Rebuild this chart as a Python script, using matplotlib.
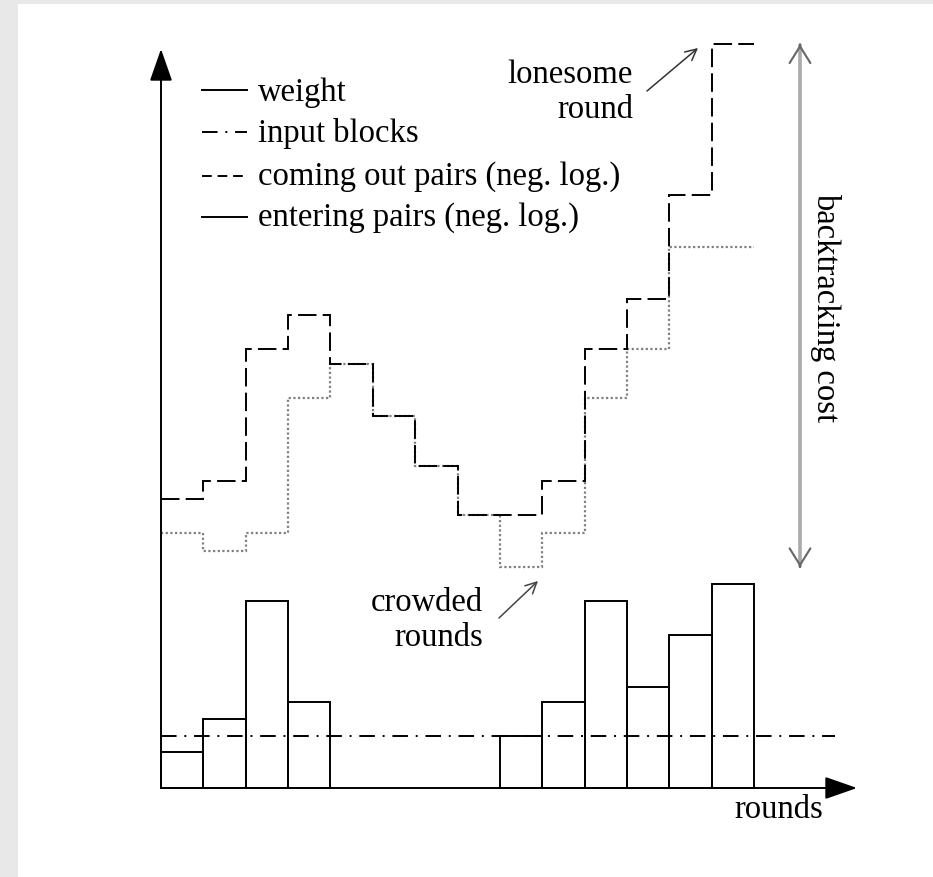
import numpy as np
import matplotlib.pyplot as plt

plt.rcParams['font.family'] = ['Liberation Serif', 'DejaVu Serif']

# data: one value per round (14 rounds)
rounds = np.arange(14)
weight = [1.4, 2.65, 7.2, 3.3, 0, 0, 0, 0, 2.0, 3.3, 7.2, 3.9, 5.9, 7.85]
input_blocks = 2.0
coming_out = [11.1, 11.8, 16.9, 18.2, 16.3, 14.3, 12.4, 10.5,
              10.5, 11.8, 16.9, 18.8, 22.8, 28.6]
entering = [9.8, 9.1, 9.8, 15.0, 16.3, 14.3, 12.4, 10.5,
            8.5, 9.8, 15.0, 16.9, 20.8, 20.8]

W, H = 933, 878
fig = plt.figure(figsize=(W / 100, H / 100), dpi=100, facecolor='#e8e8e8')
ax = fig.add_axes([0, 0, 1, 1])
ax.set_facecolor('none')

# pixel -> data helpers (x0 = 161px, 42.36 px per round; y0 = 789px, 26 px per unit)
def X(px):
    return (px - 161) / 42.36

def Y(py):
    return (789 - py) / 26.0

ax.set_xlim(X(0), X(W))
ax.set_ylim(Y(H), Y(0))
ax.axis('off')

# white page
ax.add_patch(plt.Rectangle((X(18), Y(H)), X(W) - X(18), Y(5) - Y(H),
                           facecolor='white', edgecolor='none', zorder=0))

lw = 1.4
fs = 23.5

# weight bars
edges = np.arange(15)
for r, w in zip(rounds, weight):
    if w > 0:
        ax.bar(r + 0.5, w, width=1, fill=False, edgecolor='black', lw=lw, zorder=2)

# input blocks
ax.plot([0, X(835)], [input_blocks, input_blocks], color='black', lw=lw,
        dashes=(8, 4, 1, 4), zorder=3)

# entering pairs (grey dotted) and coming out pairs (dashed)
ax.stairs(entering, edges, baseline=None, color='#808080', lw=1.6,
          linestyle=(0, (1, 1.1)), zorder=3)
ax.stairs(coming_out, edges, baseline=None, color='black', lw=lw,
          linestyle=(0, (9.5, 3.2)), zorder=4)

# axes with arrow heads
ax.annotate('', xy=(0, Y(50)), xytext=(0, 0),
            arrowprops=dict(arrowstyle='-|>,head_length=2.0,head_width=0.7',
                            mutation_scale=10, lw=lw, color='black',
                            shrinkA=0, shrinkB=0), zorder=5)
ax.annotate('', xy=(X(857), 0), xytext=(0, 0),
            arrowprops=dict(arrowstyle='-|>,head_length=2.0,head_width=0.7',
                            mutation_scale=10, lw=lw, color='black',
                            shrinkA=0, shrinkB=0), zorder=5)

# legend (drawn by hand)
labels = ['weight', 'input blocks', 'coming out pairs (neg. log.)',
          'entering pairs (neg. log.)']
styles = ['-', (0, (8, 4, 1, 4)), (0, (5, 3)), '-']
line_py = [91, 133, 176.5, 218]
base_py = [101.5, 142, 185, 226]
for lab, st, ly, by in zip(labels, styles, line_py, base_py):
    ax.plot([X(202), X(247)], [Y(ly), Y(ly)], color='black', lw=lw, linestyle=st)
    ax.text(X(258), Y(by), lab, fontsize=fs, ha='left', va='baseline')

# annotations
ax.text(X(633), Y(83), 'lonesome', fontsize=fs, ha='right', va='baseline')
ax.text(X(633), Y(118), 'round', fontsize=fs, ha='right', va='baseline')
ax.annotate('', xy=(X(698), Y(49)), xytext=(X(647), Y(92)),
            arrowprops=dict(arrowstyle='->,head_length=0.8,head_width=0.4',
                            mutation_scale=10, lw=1.1, color='#333333',
                            shrinkA=0, shrinkB=0))

ax.text(X(483), Y(611), 'crowded', fontsize=fs, ha='right', va='baseline')
ax.text(X(483), Y(646), 'rounds', fontsize=fs, ha='right', va='baseline')
ax.annotate('', xy=(X(538), Y(582)), xytext=(X(499), Y(619)),
            arrowprops=dict(arrowstyle='->,head_length=0.8,head_width=0.4',
                            mutation_scale=10, lw=1.1, color='#444444',
                            shrinkA=0, shrinkB=0))

ax.text(X(823), Y(818), 'rounds', fontsize=fs, ha='right', va='baseline')

# backtracking cost range
bx = X(800)
top, bottom = max(coming_out), min(entering)
ax.plot([bx, bx], [bottom, top], color='#aaaaaa', lw=2.6, solid_capstyle='butt')
for yy, d in [(top, -0.01), (bottom, 0.01)]:
    ax.annotate('', xy=(bx, yy), xytext=(bx, yy + d),
                arrowprops=dict(arrowstyle='->,head_length=1.2,head_width=0.75',
                                mutation_scale=10, lw=1.5, color='#666666',
                                shrinkA=0, shrinkB=0))
ax.text(X(826), Y(308), 'backtracking cost', fontsize=fs,
        rotation=-90, ha='center', va='center')

fig.savefig('out.png', dpi=100, facecolor=fig.get_facecolor())
